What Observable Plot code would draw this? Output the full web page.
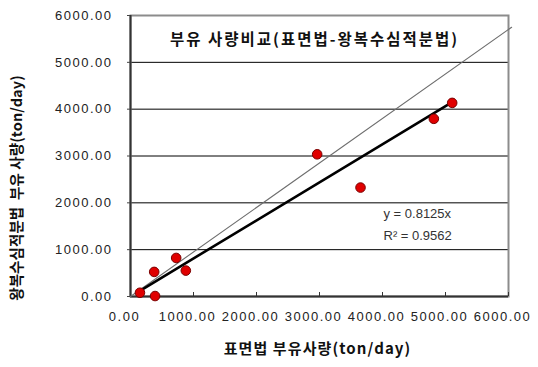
<!DOCTYPE html>
<html>
<head>
<meta charset="utf-8">
<script src="https://cdn.jsdelivr.net/npm/d3@7"></script>
<script src="https://cdn.jsdelivr.net/npm/@observablehq/plot@0.6"></script>
<style>
  html, body { margin: 0; padding: 0; background: #fff; }
</style>
</head>
<body>
<div id="chart"></div>
<script>
// Suspended sediment load: surface method vs. round-trip depth-integrating method (ton/day)
const surfaceMethod   = [150, 390, 376, 725, 878, 2963, 3651, 4815, 5106];
const roundTripMethod = [80, 10, 525, 823, 553, 3036, 2326, 3794, 4134];

// Trend line through the origin, as stated in the annotation
const slope = 0.8125;
const rSquared = 0.9562;

// Thin reference line through the origin
const refLineX = [0, 6050];
const refLineY = [0, 5750];

const xTicks = [0, 1000, 2000, 3000, 4000, 5000, 6000];
const yTicks = [0, 1000, 2000, 3000, 4000, 5000, 6000];
const gridY = [1000, 2000, 3000, 4000, 5000];

const titleText = "부유 사량비교(표면법-왕복수심적분법)";
const xTitle = "표면법 부유사량(ton/day)";
const yTitle = "왕복수심적분법  부유 사량(ton/day)";
const fitText = `y = ${slope}x\nR² = ${rSquared}`;

const points = surfaceMethod.map((x, i) => ({x, y: roundTripMethod[i]}));
const fitX = [d3.min(surfaceMethod), d3.max(surfaceMethod)];
const fitLine = fitX.map(x => ({x, y: slope * x}));
const refLine = refLineX.map((x, i) => ({x, y: refLineY[i]}));

const W = 538, H = 367;
const M = {top: 15, right: 30, bottom: 71, left: 130};
const innerH = H - M.top - M.bottom;
const fmt = d3.format(".2f");
const korean = "'Noto Sans CJK KR', sans-serif";

const svg = Plot.plot({
  width: W,
  height: H,
  marginTop: M.top,
  marginRight: M.right,
  marginBottom: M.bottom,
  marginLeft: M.left,
  style: {fontFamily: "'Liberation Sans', sans-serif", fontSize: "13px", color: "#222", background: "#fff"},
  x: {domain: [0, 6000]},
  y: {domain: [0, 6000]},
  marks: [
    Plot.ruleY(gridY, {stroke: "#000", strokeWidth: 1}),
    Plot.frame({stroke: "#8c8c8c", strokeWidth: 2}),
    Plot.ruleX([0], {stroke: "#333", strokeWidth: 2}),
    Plot.ruleY([0], {stroke: "#333", strokeWidth: 2}),
    // inward x ticks
    Plot.ruleX(xTicks, {insetTop: innerH - 4, stroke: "#333", strokeWidth: 1}),
    Plot.axisY(yTicks, {tickSize: 3, tickPadding: 15, tickFormat: fmt, label: null, stroke: "#444"}),
    Plot.axisX(xTicks, {tickSize: 0, tickPadding: 15, tickFormat: fmt, label: null, dx: -6}),
    Plot.line(refLine, {x: "x", y: "y", stroke: "#6e6e6e", strokeWidth: 1.1, clip: false}),
    Plot.line(fitLine, {x: "x", y: "y", stroke: "#000", strokeWidth: 2.6}),
    Plot.dot(points, {x: "x", y: "y", r: 4.8, fill: "#e00000", stroke: "#7a0000", strokeWidth: 1}),
    Plot.text([titleText], {frameAnchor: "top", dy: 18, dx: -5, fontFamily: korean, fontWeight: "bold", fontSize: 15.5, fill: "#111"}),
    Plot.text([fitText], {frameAnchor: "bottom-left", dx: 253, dy: -75, textAnchor: "start", lineAnchor: "middle", lineHeight: 1.7, fontSize: 13, fill: "#333"}),
    Plot.text([xTitle], {frameAnchor: "bottom", dy: 57, dx: -2, fontFamily: korean, fontWeight: "bold", fontSize: 15, fill: "#111"}),
    Plot.text([yTitle], {frameAnchor: "left", dx: -113, dy: 32, rotate: -90, textAnchor: "middle", fontFamily: korean, fontWeight: "bold", fontSize: 14.5, fill: "#111"})
  ]
});

// spacing for the numeric tick labels and the Korean titles
d3.select(svg).selectAll("g[aria-label$='tick label'] text").attr("letter-spacing", 1.5);
d3.select(svg).selectAll("text").each(function () {
  const t = this.textContent;
  if (t === titleText) this.setAttribute("letter-spacing", 2);
  else if (t === xTitle) this.setAttribute("letter-spacing", 1.1);
  else if (t === yTitle) this.setAttribute("letter-spacing", 0.1);
});

document.getElementById("chart").append(svg);
</script>
</body>
</html>
